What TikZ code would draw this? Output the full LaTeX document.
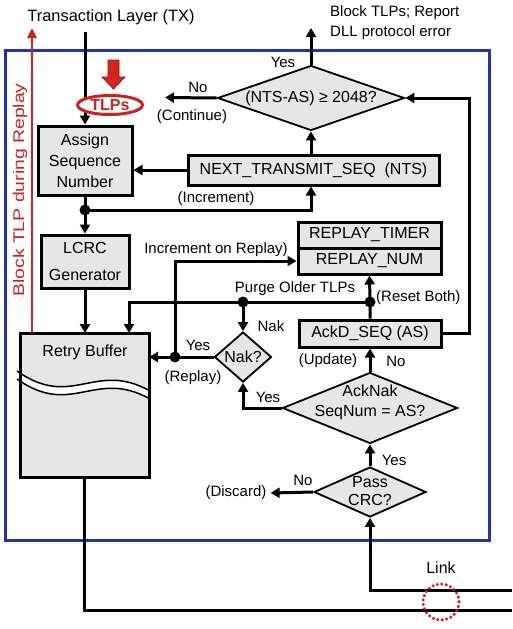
\documentclass[tikz,border=0pt]{standalone}
\usepackage{fontspec}
\setmainfont{Liberation Sans}
\usetikzlibrary{shapes.geometric,arrows.meta,calc}
\definecolor{boxgray}{HTML}{E6E6E6}
\definecolor{myblue}{HTML}{2233B0}
\definecolor{myred}{HTML}{CC2222}
\definecolor{darkred}{HTML}{A01010}
\begin{document}
\begin{tikzpicture}[x=1pt,y=-1pt,
  every node/.style={font=\fontsize{15}{17}\selectfont, inner sep=0pt},
  box/.style={draw, line width=3pt, fill=boxgray, font=\fontsize{16}{21}\selectfont, align=center},
  dia/.style={diamond, draw, line width=1.8pt, fill=boxgray},
  diatext/.style={font=\fontsize{16}{19}\selectfont, align=center},
  conn/.style={line width=3pt, -{Triangle[length=9pt,width=10pt]}},
  plain/.style={line width=3pt},
  lbl/.style={font=\fontsize{15}{17}\selectfont},
  dot/.style={circle, fill=black, minimum size=11pt, inner sep=0pt},
]
\useasboundingbox (0,0) rectangle (512,629);
\fill[white] (0,0) rectangle (512,629);

% blue frame
\draw[myblue, line width=3pt] (5,50) rectangle (489,540);

% texts at top
\node[font=\fontsize{16.4}{19}\selectfont] (tx) at (111,17) {Transaction Layer (TX)};
\node[anchor=west, align=left, font=\fontsize{15}{20}\selectfont] (blk) at (330,23) {Block TLPs; Report\\DLL protocol error};

% boxes
\node[box, minimum width=94pt, minimum height=69pt] (assign) at (85,160.5) {Assign\\Sequence\\Number};
\node[box, minimum width=88pt, minimum height=53pt, font=\fontsize{16}{27}\selectfont] (lcrc) at (85,261.5) {LCRC\\Generator};
\node[fill=boxgray, minimum width=129pt, minimum height=144pt, outer sep=0pt] (retry) at (84.5,405) {};
\node[box, minimum width=251pt, minimum height=30pt] (nts) at (313.5,170) {NEXT\_TRANSMIT\_SEQ\ \ (NTS)};
\node[box, minimum width=143pt, minimum height=26pt] (rt) at (369.5,235) {REPLAY\_TIMER};
\node[box, minimum width=143pt, minimum height=26pt] (rn) at (369.5,261) {REPLAY\_NUM};
\node[box, minimum width=142pt, minimum height=27pt] (ackd) at (370,333.5) {AckD\_SEQ (AS)};

% retry buffer wave
\fill[white] (19,372) .. controls (72,410) and (95,360) .. (150,391)
  -- (150,399) .. controls (95,368) and (72,418) .. (19,380) -- cycle;
\draw[line width=1.5pt] (17,371) .. controls (72,410) and (95,360) .. (150,391);
\draw[line width=1.5pt] (17,379) .. controls (72,418) and (95,368) .. (150,399);
\draw[line width=3pt] (retry.north west) rectangle (retry.south east);
\node[font=\fontsize{16}{19}\selectfont] (rbtext) at (85,352) {Retry Buffer};

% diamonds
\node[dia, minimum width=187pt, minimum height=65pt] (d1) at (311,98) {};
\node[diatext] at (d1.center) {(NTS-AS) ≥ 2048?};
\node[dia, minimum width=57pt, minimum height=50pt] (d2) at (243,357) {};
\node[diatext] at (d2.center) {Nak?};
\node[dia, minimum width=175pt, minimum height=71pt] (d3) at (370,408) {};
\node[diatext, font=\fontsize{16}{20}\selectfont] at ($(d3.center)+(0,-6)$) {AckNak\\SeqNum = AS?};
\node[dia, minimum width=112pt, minimum height=50pt] (d4) at (370,492) {};
\node[diatext, font=\fontsize{16}{18}\selectfont] at ($(d4.center)+(0,-1)$) {Pass\\CRC?};

% coordinates
\coordinate (txin) at (85,32);
\coordinate (cont) at (165,97.5);
\coordinate (yesup) at (311,28);
\coordinate (dot1) at (85,210);
\coordinate (incr) at (311,210);
\coordinate (rightx) at (469,0);
\coordinate (dot2) at (370,302);
\coordinate (dot3) at (243,302);
\coordinate (purge) at (129,302);
\coordinate (dot4) at (175,357);
\coordinate (linkin) at (512,590);
\coordinate (linkout) at (512,610);
\coordinate (redtop) at (32,28);

% TX in line (under ellipse)
\draw[conn] (txin) -- (assign.north);

% red block arrow
\filldraw[fill=myred!95!orange, draw=darkred, line width=0.8pt]
  (108,60) -- (119,60) -- (119,77) -- (125,77) -- (113.5,89) -- (102,77) -- (108,77) -- cycle;

% TLPs ellipse
\node[ellipse, draw=myred, line width=3pt, fill=white, minimum width=65pt, minimum height=19pt,
  font=\fontsize{16}{19}\selectfont\bfseries, text=myred] (tlps) at (110,105) {TLPs};

% connectors
\draw[conn] (d1.west) -- (cont);
\node[lbl] at (198,87) {No};
\node[lbl] at (192,117) {(Continue)};
\draw[conn] (d1.north) -- (yesup);
\node[lbl] at (283,62) {Yes};
\draw[conn] (d1.south |- nts.north) -- (d1.south);
\draw[conn] (nts.west) -- (nts.west -| assign.east);

\draw[plain] (assign.south) -- (dot1);
\draw[conn] (dot1) -- (lcrc.north);
\draw[conn] (dot1) -- (incr) -- (incr |- nts.south);
\node[dot] at (dot1) {};
\node[lbl] at (216,199) {(Increment)};

\draw[conn] (lcrc.south) -- (lcrc.south |- retry.north);

\draw[conn] (ackd.east) -- (ackd.east -| rightx) -- (d1.east -| rightx) -- (d1.east);

\draw[conn] (ackd.north) -- (dot2) -- (rn.south);
\node[lbl, anchor=west] at (376,298) {(Reset Both)};
\draw[conn] (dot2) -- (dot3) -- (purge) -- (purge |- retry.north);
\node[lbl] at (295,289) {Purge Older TLPs};
\draw[conn] (dot3) -- (d2.north);
\node[lbl] at (271,326) {Nak};
\node[dot] at (dot2) {};
\node[dot] at (dot3) {};

\draw[conn] (d2.west) -- (dot4) -- (dot4 -| retry.east);
\draw[conn] (dot4) |- (rn.west);
\node[dot] at (dot4) {};
\node[lbl] at (198,345) {Yes};
\node[lbl] at (193,378) {(Replay)};
\node[lbl] at (216,250) {Increment on Replay)};

\draw[conn] (d3.west) -| (d2.south);
\node[lbl] at (268,397) {Yes};
\draw[conn] (d3.north) -- (ackd.south);
\node[lbl] at (328,361) {(Update)};
\node[lbl] at (396,361) {No};

\draw[conn] (d4.north) -- (d3.south);
\node[lbl] at (394,460) {Yes};
\node[lbl] (disc) at (236,493) {(Discard)};
\draw[conn] (d4.west) -- ($(disc.east)+(4,0)$);
\node[lbl] at (303,480) {No};

\draw[conn] (linkin) -- (d4.south |- linkin) -- (d4.south);
\draw[plain] (retry.south) -- (retry.south |- linkout) -- (linkout);

% red replay-block arrow
\draw[myred, line width=2.8pt, -{Triangle[length=10pt,width=9pt]}] (redtop |- retry.north) -- (redtop);
\node[rotate=90, text=myred, font=\fontsize{15.5}{18}\selectfont] (blocktxt) at (20,190) {\scalebox{1.25}[1]{Block TLP during Replay}};

% link
\draw[myred, line width=3.4pt, line cap=round, dash pattern=on 0pt off 4.5pt] (441,602) circle (18);
\node[font=\fontsize{16}{19}\selectfont] (link) at (441,568) {Link};
\end{tikzpicture}
\end{document}
